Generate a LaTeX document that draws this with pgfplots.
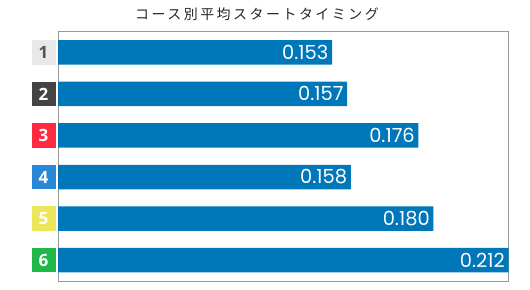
\documentclass[border=0pt]{standalone}
\usepackage{pgfplots}
\pgfplotsset{compat=1.18}
\usepackage{pgfplotstable}
\usepackage{fontspec}
\setmainfont{Open Sans}
\newfontfamily\cjk[LetterSpace=18]{Noto Sans CJK JP}
\newfontfamily\valfont{Poppins}
\newfontfamily\labfont{Open Sans}
\definecolor{barblue}{HTML}{0077B9}
\definecolor{frame}{HTML}{999999}
\definecolor{c1}{HTML}{E8E8E8}
\definecolor{t1}{HTML}{4A5560}
\definecolor{c2}{HTML}{444444}
\definecolor{c3}{HTML}{FF2A40}
\definecolor{c4}{HTML}{2A86D6}
\definecolor{c5}{HTML}{EEE65A}
\definecolor{c6}{HTML}{20B848}
\newcommand{\lab}[3]{{\setlength{\fboxsep}{0pt}\colorbox{#1}{\parbox[c][24.5bp][c]{24bp}{\centering\color{#2}\labfont\bfseries\fontsize{17}{17}\selectfont #3}}}}
\pgfplotstableread{
pos val
1 0.153
2 0.157
3 0.176
4 0.158
5 0.180
6 0.212
}\sttable
\begin{document}
\begin{tikzpicture}
\path[use as bounding box] (0,0) rectangle (530bp,290bp);
\node[font=\cjk\fontsize{14}{14}\selectfont, text=black!85] at (257bp,276bp) {コース別平均スタートタイミング};
\begin{axis}[
  at={(58bp,9bp)}, anchor=south west,
  scale only axis, width=450.5bp, height=249.5bp,
  xmin=0.08, xmax=0.2,
  ymin=0.5, ymax=6.5, y dir=reverse,
  xbar, bar width=0.59,
  axis line style={frame, line width=1bp},
  xtick=\empty,
  ytick={1,2,3,4,5,6},
  yticklabels={{\lab{c1}{t1}{1}},{\lab{c2}{white}{2}},{\lab{c3}{white}{3}},{\lab{c4}{white}{4}},{\lab{c5}{white}{5}},{\lab{c6}{white}{6}}},
  major tick length=0pt,
  yticklabel style={inner sep=0pt, xshift=-2.3bp},
  x filter/.expression={min(x,0.2)},
  point meta=explicit,
  nodes near coords={\pgfmathprintnumber[fixed,precision=3,zerofill,assume math mode=true]{\pgfplotspointmeta}},
  nodes near coords style={anchor=east, inner sep=0pt, xshift=-3.5bp, text=white, font=\valfont\fontsize{19.5}{19.5}\selectfont},
]
\addplot[fill=barblue, draw=none] table[x=val, y=pos, meta=val] {\sttable};
\end{axis}
\end{tikzpicture}
\end{document}
